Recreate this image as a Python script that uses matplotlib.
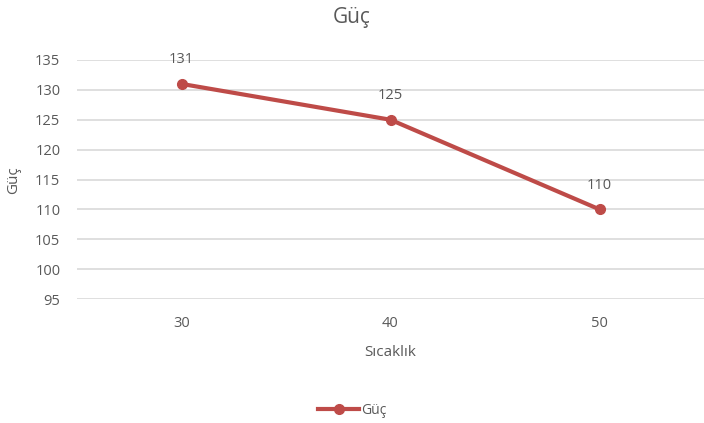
import matplotlib
matplotlib.use("Agg")
import matplotlib.pyplot as plt

sicaklik = ["30", "40", "50"]
guc = [131, 125, 110]
y_ticks = [95, 100, 105, 110, 115, 120, 125, 130, 135]

line_color = "#BE4B48"
text_color = "#595959"
grid_color = "#D9D9D9"

plt.rcParams["font.family"] = ["Open Sans", "DejaVu Sans"]

fig = plt.figure(figsize=(7.04, 4.23), dpi=100)
ax = fig.add_axes([77/704, 1 - 299/423, 1 - 77/704, (299 - 60)/423])

xs = list(range(len(sicaklik)))
ax.plot(xs, guc, color=line_color, linewidth=3, marker="o", markersize=7,
        label="Güç", zorder=3)
for x, v in zip(xs, guc):
    ax.annotate(str(v), (x, v), textcoords="offset points", xytext=(0, 12),
                ha="center", va="bottom", fontsize=10.5, color=text_color)

ax.set_xlim(-0.5, 2.5)
ax.set_ylim(95, 135)
ax.set_yticks(y_ticks)
ax.set_xticks(xs)
ax.set_xticklabels(sicaklik)
ax.yaxis.grid(True, color=grid_color, linewidth=1.2)
ax.set_axisbelow(True)
for s in ax.spines.values():
    s.set_visible(False)
ax.tick_params(length=0, colors=text_color, labelsize=10.5)
ax.tick_params(axis="x", pad=12)
ax.tick_params(axis="y", pad=12)

ax.set_xlabel("Sıcaklık", fontsize=11, color=text_color, labelpad=10)
fig.text(14/704, 1 - 180/423, "Güç", rotation=90, ha="center", va="center",
         fontsize=11, color=text_color)
fig.text(0.5, 1 - 18/423, "Güç", ha="center", va="center", fontsize=15, color=text_color)

fig.legend(loc="center", bbox_to_anchor=(352/704, 1 - 410/423), frameon=False,
           fontsize=10, labelcolor=text_color, handlelength=3, handletextpad=0.1)

fig.savefig("out.png", dpi=100)
